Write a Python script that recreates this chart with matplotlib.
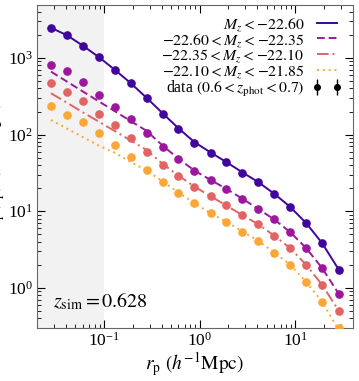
import numpy as np
import matplotlib
matplotlib.use("Agg")
import matplotlib.pyplot as plt

plt.rcParams['font.family'] = 'serif'
plt.rcParams['font.serif'] = ['Liberation Serif', 'DejaVu Serif']
plt.rcParams['mathtext.fontset'] = 'stix'

# projected separation bins (h^-1 Mpc)
rp = [0.028, 0.041, 0.060, 0.088, 0.130, 0.190, 0.279, 0.41, 0.60, 0.88,
      1.30, 1.90, 2.79, 4.10, 6.02, 8.83, 12.97, 19.0, 28.5]

labels = [r'$M_z < -22.60$',
          r'$-22.60 < M_z < -22.35$',
          r'$-22.35 < M_z < -22.10$',
          r'$-22.10 < M_z < -21.85$']

# measured w_p (points)
data1 = [2485, 2013, 1446, 1020, 697, 468, 301, 188, 120, 78.5,
         58.2, 43.6, 31.9, 23.9, 16.8, 11.3, 6.98, 3.83, 1.72]
data2 = [811, 676, 491, 332, 232, 160, 106, 69.7, 47.8, 33.9,
         25.6, 19.8, 14.5, 10.7, 7.87, 5.37, 3.32, 1.81, 0.83]
data3 = [468, 357, 272, 184, 134, 90.5, 60, 40.2, 28.9, 20.9,
         15.7, 11.9, 8.87, 6.78, 4.81, 3.30, 2.0, 1.09, 0.50]
data4 = [234, 182, 145, 104, 74, 50.7, 34.6, 24.4, 17.5, 12.7,
         9.42, 7.33, 5.43, 4.14, 2.89, 2.0, 1.21, 0.66, 0.30]

# model w_p (lines)
model1 = [2470, 1980, 1450, 1030, 700, 470, 302, 190, 121, 80,
          58.5, 43.8, 32.2, 24.0, 16.9, 11.4, 7.0, 3.85, 1.72]
model2 = [663, 492, 366, 272, 202, 150, 112, 72, 48.5, 34,
          25.6, 19.6, 14.6, 10.7, 7.8, 5.35, 3.3, 1.82, 0.83]
model3 = [346, 261, 196, 148, 111, 84, 63, 41.5, 29.2, 21,
          15.7, 11.9, 8.9, 6.75, 4.8, 3.3, 2.0, 1.1, 0.5]
model4 = [155, 120, 93, 72, 58, 44, 34, 24.5, 17.6, 12.8,
          9.4, 7.3, 5.45, 4.1, 2.9, 2.0, 1.2, 0.66, 0.28]

colors = ['#41049d', '#9c179e', '#e16462', '#fca636']
styles = ['-', (0, (4, 2)), (0, (6, 2, 1, 2)), (0, (1, 2))]

fig = plt.figure(figsize=(3.59, 3.81), dpi=100)
ax = fig.add_axes([37/359, 1 - 328/381, 316/359, 323/381])

ax.axvspan(0.01, 0.1, color='#f2f2f2', lw=0, zorder=0)

datas = [data1, data2, data3, data4]
models = [model1, model2, model3, model4]
for d, m, c, ls, lab in zip(datas, models, colors, styles, labels):
    ax.plot(rp, m, color=c, ls=ls, lw=1.4, label=lab, zorder=2)
    ax.errorbar(rp, d, yerr=0.04 * np.array(d), fmt='o', color=c, ms=5.2,
                elinewidth=1, capsize=0, zorder=3)

ax.errorbar([np.nan], [np.nan], yerr=[1], fmt='o', color='k', ms=4,
            elinewidth=1, capsize=0,
            label=r'data $(0.6 < z_{\rm phot} < 0.7)$')

ax.set_xscale('log')
ax.set_yscale('log')
ax.set_xlim(0.02, 40)
ax.set_ylim(0.3, 4900)

ax.tick_params(which='both', direction='in', top=True, right=True,
               labelsize=12.5, pad=3)
ax.tick_params(which='major', length=6)
ax.tick_params(which='minor', length=3)
for s in ax.spines.values():
    s.set_color('0.4')

ax.set_xlabel(r'$r_{\rm p}\ (h^{-1}{\rm Mpc})$', fontsize=14)
ax.xaxis.set_label_coords(0.5, -0.07)
ax.set_ylabel(r'$w_{\rm p}(r_{\rm p})\ (h^{-1}{\rm Mpc})$', fontsize=14)
ax.yaxis.set_label_coords(-0.095, 0.5)

ax.text(0.05, 0.065, r'$z_{\rm sim} = 0.628$', transform=ax.transAxes, fontsize=14.5)

ax.legend(loc='upper right', frameon=False, markerfirst=False, fontsize=11.3,
          numpoints=2, handlelength=1.9, handletextpad=0.5, labelspacing=-0.08,
          borderaxespad=0.3)

fig.savefig('out.png', dpi=100)
